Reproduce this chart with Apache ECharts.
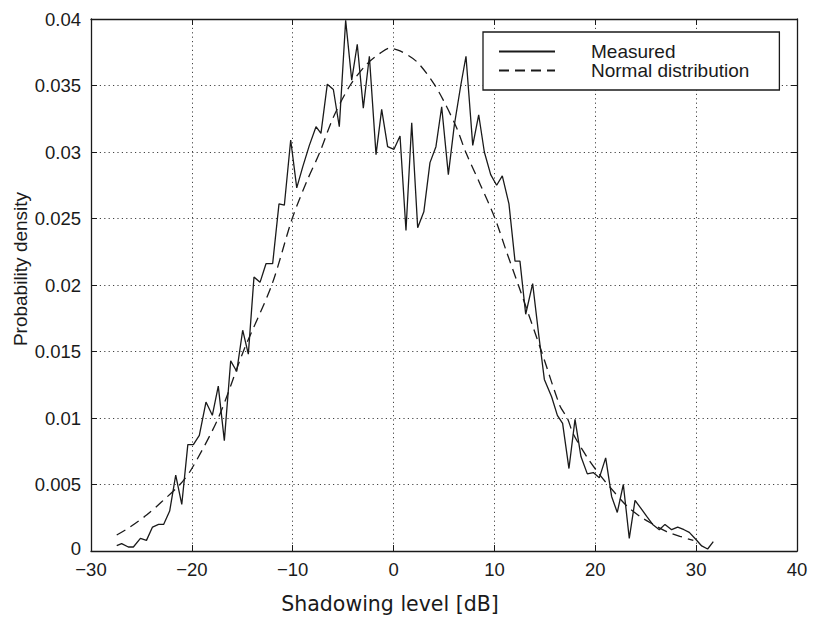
<!DOCTYPE html>
<html>
<head>
<meta charset="utf-8">
<script src="https://cdn.jsdelivr.net/npm/echarts@6/dist/echarts.min.js"></script>
<style>
html,body{margin:0;padding:0;background:#fff;}
#chart{width:813px;height:617px;}
</style>
</head>
<body>
<div id="chart"></div>
<script>
// Measured shadowing histogram (x in dB, y probability density)
const measuredX = [-27.45,-26.96,-26.3,-25.8,-25.1,-24.5,-23.9,-23.3,-22.8,-22.2,-21.6,-21.0,-20.4,-19.85,-19.26,-18.6,-17.97,-17.38,-16.78,-16.15,-15.55,-14.96,-14.4,-13.84,-13.24,-12.65,-11.99,-11.36,-10.83,-10.2,-9.6,-9.0,-8.35,-7.69,-7.2,-6.57,-5.97,-5.38,-4.75,-4.15,-3.6,-3.0,-2.4,-1.74,-1.18,-0.59,0.04,0.64,1.23,1.8,2.39,3.0,3.61,4.2,4.77,5.43,6.02,6.66,7.18,7.85,8.44,9.0,9.63,10.22,10.78,11.44,12.04,12.53,13.1,13.79,14.4,14.95,15.67,16.24,16.76,17.39,17.99,18.58,19.21,19.8,20.4,21.03,21.62,22.18,22.78,23.37,23.94,24.53,25.1,25.69,26.35,26.91,27.57,28.17,28.8,29.32,29.96,30.55,31.14,31.7];
const measuredY = [0.0004,0.00055,0.0003,0.0003,0.00095,0.0008,0.0018,0.002,0.002,0.003,0.0057,0.0035,0.008,0.008,0.0087,0.0112,0.0102,0.0124,0.0083,0.0143,0.0135,0.0166,0.0148,0.0206,0.0202,0.0216,0.0216,0.0261,0.026,0.0309,0.0273,0.0289,0.0305,0.0319,0.0314,0.0351,0.0347,0.0319,0.0399,0.0354,0.0381,0.0333,0.0372,0.0298,0.0332,0.0304,0.0302,0.0312,0.0241,0.0322,0.0243,0.0255,0.0292,0.0304,0.0334,0.0283,0.032,0.035,0.0372,0.0305,0.0328,0.03,0.0283,0.0275,0.0282,0.0261,0.0218,0.0218,0.0178,0.0201,0.0162,0.0129,0.0116,0.0102,0.0096,0.0062,0.0099,0.0071,0.0058,0.0059,0.0055,0.007,0.0041,0.0029,0.005,0.00095,0.0038,0.0032,0.0026,0.002,0.0016,0.002,0.0016,0.0018,0.0016,0.0014,0.00088,0.00038,0.00015,0.0007];

// Fitted normal distribution
const normalX = [-27.45,-26.13,-24.49,-22.99,-21.18,-20.0,-17.38,-14.9,-12.08,-10.05,-8.6,-7.3,-5.98,-4.32,-2.67,-1.2,-0.4,0.64,2.29,3.94,4.93,6.26,7.15,8.57,10.06,11.2,12.37,14.67,16.5,17.22,17.82,19.15,20.47,21.46,23.11,24.43,25.75,27.08,28.4,29.72];
const normalY = [0.0012,0.0018,0.0027,0.0037,0.005,0.0062,0.01,0.015,0.02,0.025,0.0278,0.03,0.0326,0.035,0.0366,0.0375,0.0378,0.0376,0.0368,0.0352,0.0339,0.0318,0.03,0.0276,0.025,0.0225,0.02,0.015,0.0109,0.01,0.0088,0.0071,0.0057,0.0048,0.0034,0.0026,0.002,0.00145,0.0011,0.0008];

const xTicks = [-30,-20,-10,0,10,20,30,40];
const xTickLabels = ['\u221230','\u221220','\u221210','0','10','20','30','40'];
const yTicks = [0,0.005,0.01,0.015,0.02,0.025,0.03,0.035,0.04];
const yTickLabels = ['0','0.005','0.01','0.015','0.02','0.025','0.03','0.035','0.04'];

const seriesNames = ['Measured','Normal distribution'];
const xTitle = 'Shadowing level [dB]';
const yTitle = 'Probability density';

const chart = echarts.init(document.getElementById('chart'), null, {renderer:'svg'});
const ink = '#1a1a1a';
const font = 'Liberation Sans, Arial, Helvetica, sans-serif';

function xLab(v){ const i = xTicks.findIndex(t => Math.abs(t - v) < 1e-9); return i >= 0 ? xTickLabels[i] : ''; }
function yLab(v){
  const i = yTicks.findIndex(t => Math.abs(t - v) < 1e-9);
  if (i < 0) return '';
  return i === 0 ? '{z|' + yTickLabels[i] + '}' : yTickLabels[i];
}

const axisCommon = {
  type:'value',
  axisLine:{show:true, onZero:false, lineStyle:{color:ink, width:1.3}},
  axisTick:{show:true, inside:true, length:6, lineStyle:{color:ink, width:1}},
};

const option = {
  backgroundColor:'#fff',
  animation:false,
  grid:{left:91, right:16, top:19, bottom:66, containLabel:false},
  xAxis:[
    Object.assign({}, axisCommon, {
      min:-30, max:40, interval:10, position:'bottom',
      axisLabel:{show:true, margin:9, color:ink, fontSize:18.5, lineHeight:18, fontFamily:font, formatter:xLab},
      splitLine:{show:true, lineStyle:{color:'#444', width:1, type:[1.2,3.2]}}
    }),
    Object.assign({}, axisCommon, {
      min:-30, max:40, interval:10, position:'top',
      axisLabel:{show:false}, splitLine:{show:false}
    })
  ],
  yAxis:[
    Object.assign({}, axisCommon, {
      min:0, max:0.04, interval:0.005, position:'left',
      axisLabel:{show:true, margin:10, color:ink, fontSize:18.5, lineHeight:14, fontFamily:font, formatter:yLab,
        rich:{z:{fontSize:18.5, fontFamily:font, color:ink, lineHeight:14, padding:[0,0,6,0]}}},
      splitLine:{show:true, lineStyle:{color:'#444', width:1, type:[1.2,3.2]}}
    }),
    Object.assign({}, axisCommon, {
      min:0, max:0.04, interval:0.005, position:'right',
      axisLabel:{show:false}, splitLine:{show:false}
    })
  ],
  legend:{
    orient:'vertical', left:483, top:32,
    itemWidth:56, itemHeight:20, itemGap:0,
    padding:[10,30,10,15],
    borderColor:ink, borderWidth:1.3, borderRadius:0,
    backgroundColor:'#fff',
    itemStyle:{color:'rgba(0,0,0,0)', borderColor:'rgba(0,0,0,0)', borderWidth:0, opacity:0},
    textStyle:{fontSize:19, fontFamily:font, color:ink, padding:[0,0,0,31]},
    data:[{name:seriesNames[0]},{name:seriesNames[1]}]
  },
  graphic:[
    {type:'text', x:390, y:604, style:{text:xTitle, font:'20.5px "DejaVu Sans", sans-serif', fill:ink, align:'center', verticalAlign:'middle'}},
    {type:'text', x:20, y:269, rotation:Math.PI/2, style:{text:yTitle, font:'19px "Liberation Sans", Arial, sans-serif', fill:ink, align:'center', verticalAlign:'middle'}}
  ],
  series:[
    {
      name:seriesNames[0], type:'line', symbol:'none', smooth:false,
      lineStyle:{color:ink, width:1.3, type:'solid'},
      itemStyle:{color:ink},
      data: measuredX.map((x,i)=>[x, measuredY[i]]),
      z:3
    },
    {
      name:seriesNames[1], type:'line', symbol:'none', smooth:0.3,
      lineStyle:{color:ink, width:1.3, type:[10,6]},
      itemStyle:{color:ink},
      data: normalX.map((x,i)=>[x, normalY[i]]),
      z:2
    }
  ]
};
chart.setOption(option);
</script>
</body>
</html>
